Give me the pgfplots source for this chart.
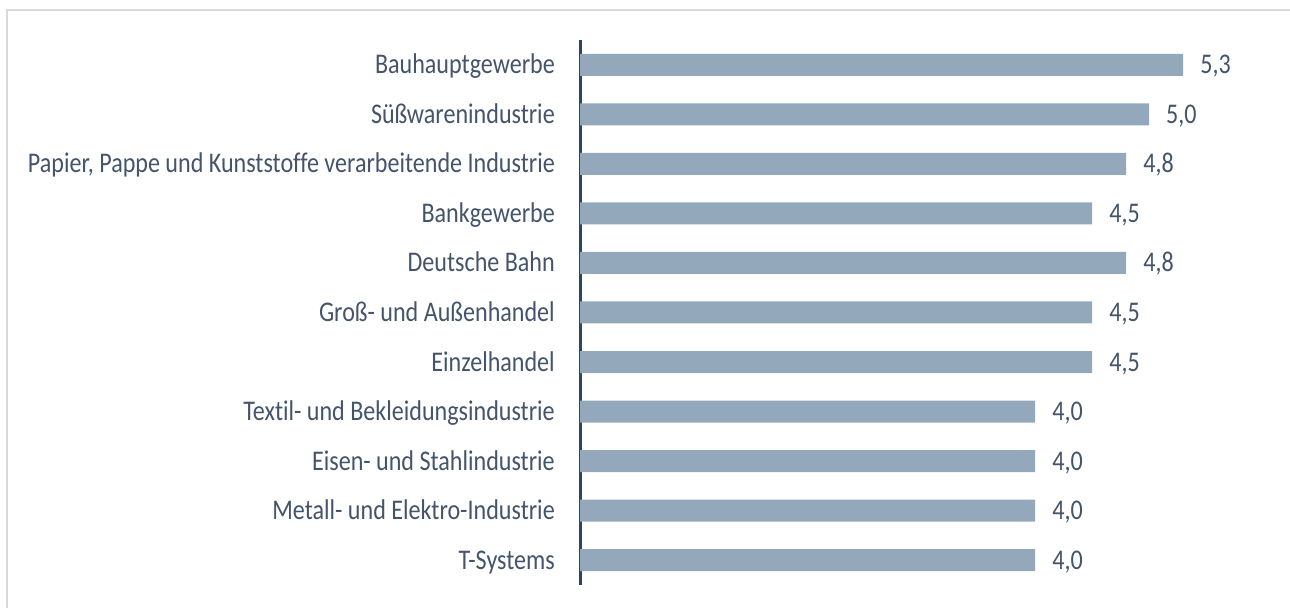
\documentclass[border=0pt]{standalone}
\usepackage{pgfplots}
\pgfplotsset{compat=1.18}
\usepackage{fontspec}
\setmainfont{Carlito}[FakeStretch=0.845, Ligatures={NoCommon}]
\definecolor{txt}{HTML}{44546A}
\definecolor{axln}{HTML}{2E4460}
\definecolor{barc}{HTML}{94A8BC}
\definecolor{frame}{HTML}{D9D9D9}
\begin{document}
\fontsize{28.5bp}{30bp}\selectfont
\begin{tikzpicture}
\useasboundingbox (0,0) rectangle (1290bp,608bp);
\draw[frame, line width=2bp] (7bp,-20bp) -- (7bp,598bp) -- (1310bp,598bp);
\begin{axis}[
  at={(580bp,23bp)}, anchor=south west,
  scale only axis, width=682.8bp, height=545bp,
  xmin=0, xmax=6, ymin=-0.5, ymax=10.5,
  axis x line=none,
  axis y line*=left,
  y axis line style={axln, line width=3bp},
  xbar, bar width=22bp,
  ytick={0,...,10},
  yticklabels={T-Systems, Metall- und Elektro-Industrie, Eisen- und Stahlindustrie, Textil- und Bekleidungsindustrie, Einzelhandel, Groß- und Außenhandel, Deutsche Bahn, Bankgewerbe, {Papier, Pappe und Kunststoffe verarbeitende Industrie}, Süßwarenindustrie, Bauhauptgewerbe},
  major tick length=0pt,
  yticklabel style={anchor=base east, inner sep=0pt, xshift=-25bp, yshift=-9bp, text=txt, font=\fontsize{28.5bp}{30bp}\selectfont},
  point meta=x,
  nodes near coords={\pgfmathprintnumber[fixed,fixed zerofill,precision=1,use comma,assume math mode=true]{\pgfplotspointmeta}},
  nodes near coords style={anchor=base west, inner sep=0pt, xshift=17bp, yshift=-9bp, text=txt, font=\fontsize{28.5bp}{30bp}\selectfont},
]
\addplot[fill=barc, draw=none] coordinates {
(4.0,0) (4.0,1) (4.0,2) (4.0,3) (4.5,4) (4.5,5) (4.8,6) (4.5,7) (4.8,8) (5.0,9) (5.3,10)
};
\end{axis}
\end{tikzpicture}
\end{document}
